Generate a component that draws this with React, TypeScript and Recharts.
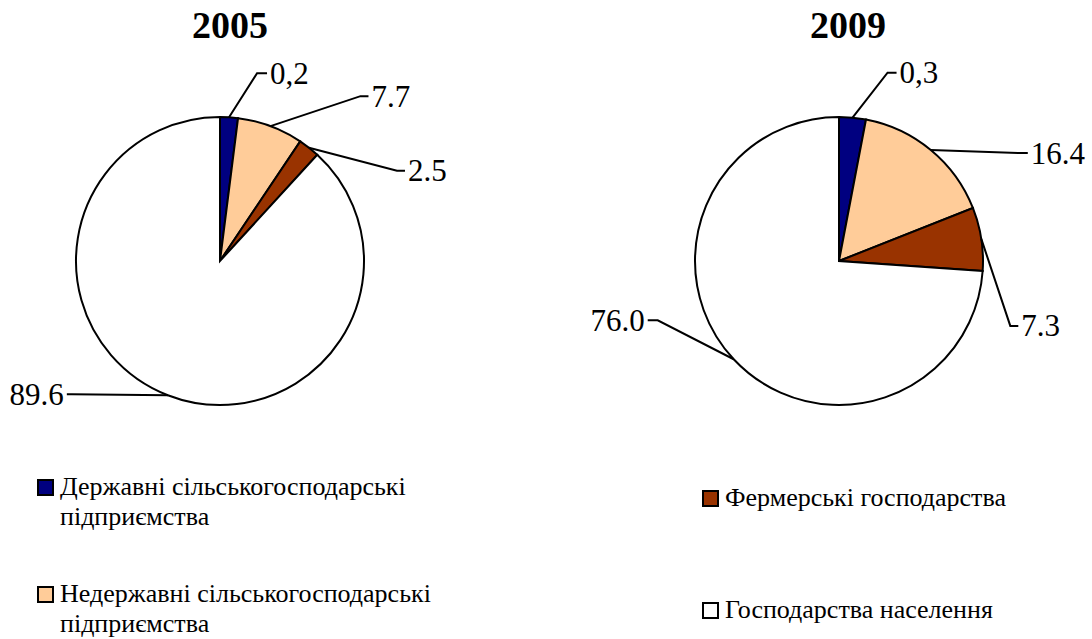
import React from 'react';
import { PieChart, Pie, Cell } from 'recharts';

// categories and colours of the slices
const categories = [
  'Державні сільськогосподарські підприємства',
  'Недержавні сільськогосподарські підприємства',
  'Фермерські господарства',
  'Господарства населення',
];
const colors = ['#000080', '#FFCC99', '#993300', '#FFFFFF'];

// slice sizes as drawn, and the labels printed beside them
const shares2005 = [2.0, 7.4, 2.4, 88.2];
const shares2009 = [3.0, 16.0, 7.1, 73.9];
const labels2005 = ['0,2', '7.7', '2.5', '89.6'];
const labels2009 = ['0,3', '16.4', '7.3', '76.0'];

// leader line shape per slice: elbow offset from the arc point, tail length
const leaders2005 = [
  { dx: 28, dy: -44, tail: 10 },
  { dx: 90, dy: -30, tail: 8 },
  { dx: 88, dy: 23, tail: 8 },
  { dx: -96, dy: -1, tail: -5 },
];
const leaders2009 = [
  { dx: 35, dy: -45, tail: 9 },
  { dx: 89, dy: 3, tail: 8 },
  { dx: 29, dy: 87, tail: 8 },
  { dx: -76, dy: -39, tail: -10 },
];

const RAD = Math.PI / 180;
const FONT = '"Liberation Serif", "Times New Roman", serif';

const makeLabel = (labels: string[], leaders: { dx: number; dy: number; tail: number }[]) =>
  (props: any) => {
    const { cx, cy, midAngle, outerRadius, index } = props;
    const ax = cx + outerRadius * Math.cos(-midAngle * RAD);
    const ay = cy + outerRadius * Math.sin(-midAngle * RAD);
    const l = leaders[index];
    const ex = ax + l.dx;
    const ey = ay + l.dy;
    const tx = ex + l.tail;
    const right = l.tail > 0;
    return (
      <g key={`lbl-${index}`}>
        <polyline points={`${ax},${ay} ${ex},${ey} ${tx},${ey}`} fill="none" stroke="#000" strokeWidth={2} />
        <text
          x={right ? tx + 3 : tx - 3}
          y={ey}
          textAnchor={right ? 'start' : 'end'}
          dominantBaseline="central"
          fontFamily={FONT}
          fontSize={31}
          fill="#000"
        >
          {labels[index]}
        </text>
      </g>
    );
  };

const toData = (shares: number[]) => categories.map((name, i) => ({ name, value: shares[i] }));

const legendPos = [
  { left: 37, top: 472, width: 400 },
  { left: 37, top: 579, width: 420 },
  { left: 702, top: 483, width: 380 },
  { left: 702, top: 595, width: 380 },
];

const App: React.FC = () => {
  return (
    <div style={{ position: 'absolute', left: 0, top: 0, width: 1092, height: 639, background: '#fff', fontFamily: FONT, overflow: 'hidden' }}>
      <PieChart width={1092} height={460} margin={{ top: 0, right: 0, bottom: 0, left: 0 }} style={{ position: 'absolute', left: 0, top: 0 }}>
        <text x={230} y={25} textAnchor="middle" dominantBaseline="central" fontFamily={FONT} fontSize={38} fontWeight="bold">2005</text>
        <text x={848} y={25} textAnchor="middle" dominantBaseline="central" fontFamily={FONT} fontSize={38} fontWeight="bold">2009</text>
        <Pie
          data={toData(shares2005)}
          dataKey="value"
          cx={220}
          cy={261}
          outerRadius={144}
          startAngle={90}
          endAngle={-270}
          stroke="#000"
          strokeWidth={2}
          isAnimationActive={false}
          labelLine={false}
          label={makeLabel(labels2005, leaders2005)}
        >
          {colors.map((c, i) => <Cell key={`a-${i}`} fill={c} />)}
        </Pie>
        <Pie
          data={toData(shares2009)}
          dataKey="value"
          cx={839}
          cy={261}
          outerRadius={144}
          startAngle={90}
          endAngle={-270}
          stroke="#000"
          strokeWidth={2}
          isAnimationActive={false}
          labelLine={false}
          label={makeLabel(labels2009, leaders2009)}
        >
          {colors.map((c, i) => <Cell key={`b-${i}`} fill={c} />)}
        </Pie>
      </PieChart>
      {categories.map((name, i) => (
        <div
          key={name}
          style={{ position: 'absolute', left: legendPos[i].left, top: legendPos[i].top, width: legendPos[i].width, display: 'flex', alignItems: 'flex-start' }}
        >
          <div style={{ width: 13, height: 13, border: '2px solid #000', background: colors[i], marginTop: 7, flexShrink: 0 }} />
          <div style={{ marginLeft: 6, fontSize: 26, lineHeight: '30px', color: '#000' }}>{name}</div>
        </div>
      ))}
    </div>
  );
};

export default App;
